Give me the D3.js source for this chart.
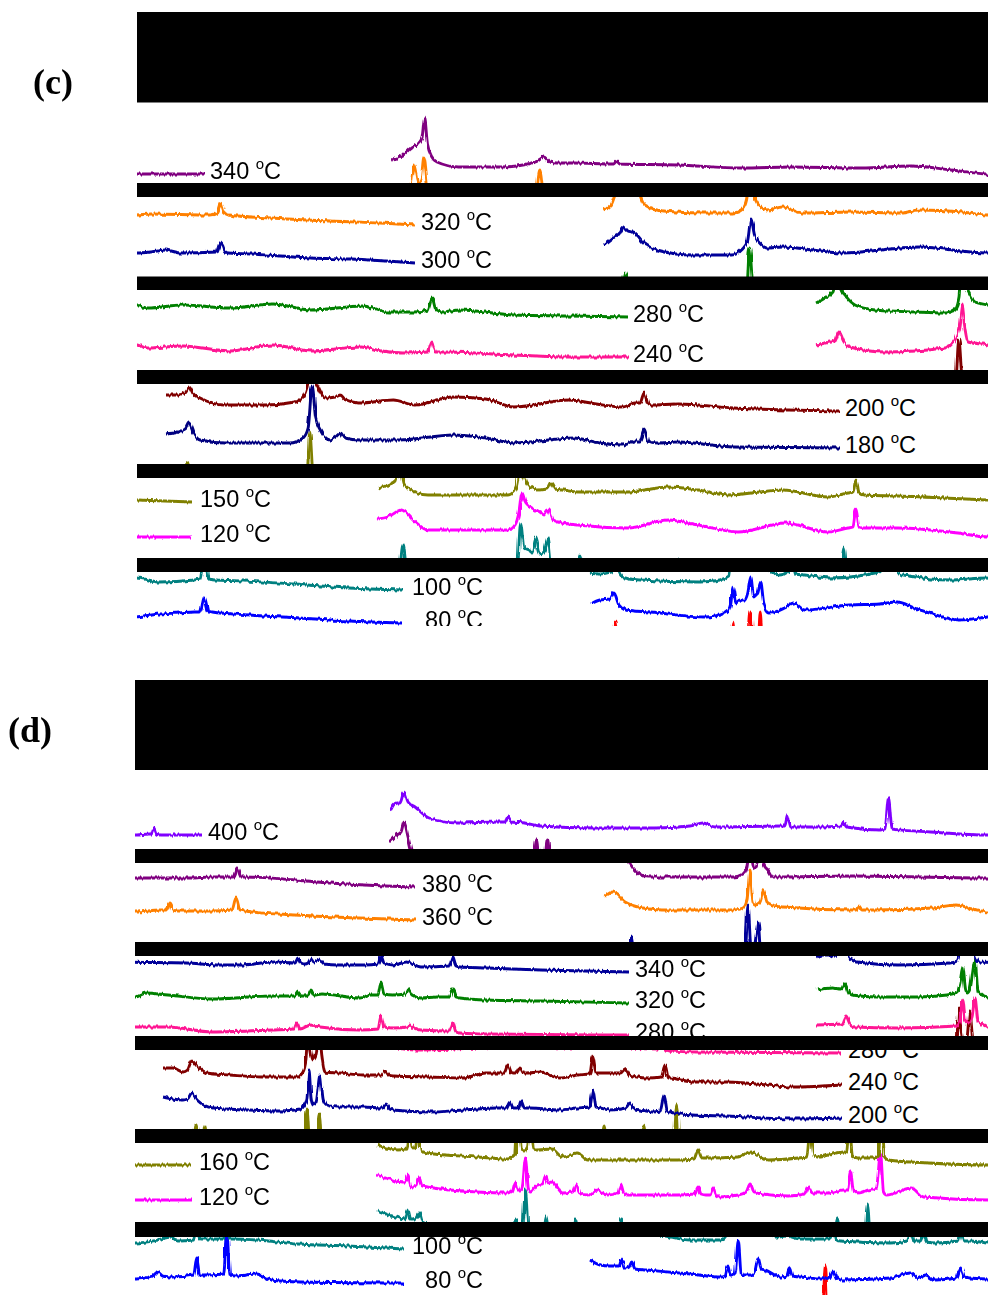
<!DOCTYPE html>
<html><head><meta charset="utf-8">
<script src="https://cdn.jsdelivr.net/npm/d3@7"></script>
<style>body{margin:0;background:#fff}svg{display:block}</style>
</head><body>
<script>
// ---------- data: [2-theta (deg), relative intensity] ----------
const twoThetaRange = [10, 76.5];

// panel (c)
const c340 = [[10,14],[11,18],[12,27],[12.6,30],[13.0,36],[13.26,56],[13.55,30],[14,17],[14.5,12],[16.7,7],[21,7],[24,11],[24.6,13],[25.2,17],[25.8,12],[26.5,11],[28.2,11],[32.2,10],[32.5,13],[32.8,10],[38.6,9],[45,6],[50,7],[57,6],[62,8],[66,4],[69.8,0],[76.5,0]];
const c320 = [[10,15],[10.8,20],[11.4,35],[11.9,40],[12.2,60],[12.6,42],[12.9,45],[13.2,68],[13.6,35],[14.2,20],[16,14],[20,12],[23,12],[24,16],[24.4,25],[24.8,55],[25.2,28],[25.8,18],[26.5,15],[28,18],[30,12],[35,13],[40,12],[41.7,15],[46,13],[48.5,10],[50,11],[56,10],[56.6,12],[57,22],[57.4,12],[57.8,10],[62,7],[68,4],[73,2],[76.5,0]];
const c300 = [[10.1,18],[11,25],[11.7,30],[12.1,36],[12.5,32],[12.9,31],[13.2,30],[14,21],[15.4,13],[19,8],[22.9,8],[24,14],[24.5,22],[24.85,44],[25.2,28],[25.8,19],[26.5,15],[28,16],[34,10],[41.7,16],[48.5,10],[50,11],[51.5,13],[53,10],[56.6,11],[57,20],[57.4,11],[57.8,10],[60,9],[63,7],[66,5],[70,4],[76.5,0]];
const c280 = [[10.1,14],[11,19],[11.8,25],[12.2,44],[12.6,28],[13,22],[14,12],[16,7],[20,5],[23,4],[24,8],[24.4,20],[24.7,69],[25,35],[25.5,22],[26,15],[27.3,12],[28.4,9],[31.9,12],[36.6,9],[40.9,13],[44.7,7],[49.9,11],[52.4,5],[55.1,5],[56.4,7],[56.8,19],[57.2,7],[57.9,5],[59.5,7],[65,2],[70.5,1],[76.5,0]];
const c240 = [[10.1,12],[11.5,15],[12,16],[12.4,25],[12.9,15],[13.5,10],[17,5],[23,9],[24,17],[24.4,30],[24.7,52],[25,28],[25.3,15],[27.3,12],[28.4,9],[31.9,11],[36.6,6],[40.9,12],[44.7,6],[49.6,10],[51.8,6],[54,4],[56.4,5],[56.8,15],[57.2,5],[57.9,5],[65,2],[70.5,0],[76.5,0]];
const c200 = [[10.07,16],[11.28,16],[12,19],[12.36,24],[12.8,17],[13.45,13],[15.9,6],[19.85,6],[22.8,9],[23.3,11],[23.8,18],[24.1,30],[24.38,71],[24.7,34],[25.07,24],[25.76,13],[26.8,14],[27.3,16],[27.7,12],[29.2,8],[32.5,11],[34.6,6],[38.4,14],[41.6,12],[44.4,4],[49.8,11],[52.5,7],[55.1,4],[56.3,8],[56.8,8],[57.2,18],[57.6,7],[57.9,6],[60.6,7],[66,3],[71.4,1],[76.5,0]];
const c180 = [[10,14],[11.28,16],[12,19],[12.36,25],[12.8,15],[13.45,8],[15.9,5],[22.3,5],[23.6,10],[24.1,20],[24.5,62],[24.85,30],[25.3,18],[26.25,8],[26.8,11],[27.3,15],[27.7,10],[29.2,8],[33.1,8],[38.4,13],[41.6,10],[44.4,5],[50.3,10],[52.8,5],[55.1,3],[56.3,7],[56.8,7],[57.2,19],[57.6,7],[58.4,5],[60.6,6],[66,1],[76.5,0]];
const c150 = [[10,14],[11,17],[11.8,22],[12.2,40],[12.6,18],[13,14],[13.7,10],[15,7],[23,7],[23.7,12],[24.0,25],[24.26,70],[24.6,25],[25,17],[26,12],[26.9,13],[27.3,19],[27.7,13],[28.5,12],[30,10],[35,10],[39,15],[42,12],[45,7],[50.5,12],[55,5],[57,9],[57.5,10],[57.8,22],[58.1,9],[58.6,7],[62,6],[71,2],[76.5,0]];
const c120 = [[10,18],[11,20],[12.35,27],[13.5,17],[15,7],[23,7],[23.7,12],[24.1,25],[24.4,44],[24.7,36],[25,32],[25.6,28],[26.2,25],[26.6,22],[27,27],[27.4,18],[28,15],[30,12],[35,9],[39,17],[42,12],[46,5],[50.75,14],[55,5],[57,9],[57.5,10],[57.8,28],[58.1,10],[58.6,9],[62,9],[68,4],[71,0],[76.5,0]];
const c100 = [[10,17],[11,16],[12.1,18],[12.5,45],[12.9,18],[13.4,12],[15,10],[21,8],[23,10],[23.9,14],[24.26,67],[24.6,42],[25,40],[25.4,38],[25.8,53],[26.2,36],[26.6,38],[27,52],[27.4,22],[27.8,20],[29,15],[29.8,18],[30.2,35],[30.6,16],[31.5,15],[34,12],[39,18],[40,30],[41,16],[42,14],[46,10],[49.8,12],[52.1,8],[55.6,10],[56.2,11],[56.6,43],[57,11],[57.8,10],[60.6,9],[65.6,6],[71.1,2],[76.4,0]];
const c80 = [[10.1,19],[11,23],[12.0,24],[12.4,30],[12.9,18],[13.6,13],[16,11],[21.6,6],[23,8],[23.8,12],[24.1,20],[24.3,36],[24.6,20],[25,23],[25.4,22],[25.8,30],[26.1,46],[26.4,26],[26.6,28],[26.8,30],[27.1,41],[27.4,20],[28,10],[29.5,15],[30.4,20],[31.5,13],[36,18],[39,19],[40.8,21],[42.5,15],[44,10],[47,3],[49.8,6],[52.1,9],[54.1,10],[55.6,11],[56.2,11],[56.6,26],[57,12],[57.4,11],[61.1,8],[66.1,5],[71.1,2],[76.4,0]];
const cRed = [[10,0],[12.2,0],[12.5,33],[12.8,0],[24,0],[24.3,33],[24.6,0],[25.8,0],[26.1,43],[26.4,0],[26.8,0],[27.05,43],[27.3,0],[76.5,0]];

// panel (d)
const d400 = [[10.16,25],[10.7,32],[11.1,32],[11.5,43],[11.9,33],[12.6,28],[14,17],[16.8,12],[21,13],[21.5,13],[21.8,18],[22.1,13],[23.5,12],[25,9],[30.5,7],[36.5,7],[40,9],[41.3,12],[42.5,8],[49,9],[49.45,9],[49.76,20],[50.05,8],[53,8],[55,9],[55.3,13],[55.6,8],[59,5],[59.45,6],[59.8,37],[60.15,6],[64,3],[69.9,0],[71.1,1],[71.35,1],[71.6,7],[71.85,1],[72.2,0],[76.5,0]];
const d380 = [[10,45],[10.8,52],[11.2,55],[11.5,65],[11.9,50],[12.2,37],[13,19],[14.5,10],[23,10],[24,13],[24.4,20],[24.7,47],[25,22],[25.2,19],[25.5,25],[25.8,47],[26.1,22],[26.5,17],[27,10],[35,11],[48.5,9],[54,9],[56.2,10],[58.3,10],[58.7,19],[59.1,10],[59.5,10],[64.5,7],[66.7,5],[71.5,2],[76.5,0]];
const d360 = [[10.15,23],[11,28],[11.5,25],[12.2,18],[14,12],[16,10],[23,10],[24,12],[24.4,20],[24.7,50],[25,18],[25.2,15],[25.7,18],[26.06,30],[26.4,18],[27,15],[28,13],[35,10],[35.3,10],[35.6,14],[35.9,10],[37,10],[43,12],[45.3,15],[47,11],[48.5,8],[51,10],[51.7,10],[52,17],[52.4,10],[52.8,9],[56.2,9],[58.2,10],[58.6,22],[59,10],[59.5,9],[64.5,5],[71,2],[76.5,0]];
const d340 = [[10,15],[10.5,17],[11.2,17],[11.7,16],[12.06,20],[12.5,18],[12.9,35],[13.25,14],[13.5,12],[14,10],[18.1,7],[23.3,9],[24,11],[24.25,20],[24.5,67],[24.8,25],[25,25],[25.2,28],[25.5,50],[25.8,15],[26.2,10],[32.2,9],[35.6,7],[37.6,7],[41.1,10],[43.1,9],[43.4,14],[43.7,9],[44.1,8],[44.4,9],[44.7,14],[45.0,10],[45.6,12],[46,8],[47.4,7],[50.1,7],[51.4,8],[51.7,16],[52.0,9],[52.9,7],[54.3,10],[55.7,5],[58.5,6],[58.85,15],[59.2,6],[59.6,5],[62.3,4],[67.7,2],[76.5,0]];
const d320 = [[10,13],[11.5,15],[12.4,14],[12.8,20],[13.2,10],[13.5,8],[16,6],[20,6],[23,8],[24,11],[24.3,20],[24.57,36],[24.85,14],[25,10],[25.3,14],[25.8,43],[26.1,12],[26.5,8],[27.15,6],[28.2,10],[30.4,8],[34.8,4],[40.8,7],[43.1,7],[43.4,11],[43.7,7],[44.1,7],[44.4,8],[44.7,13],[45,8],[45.8,9],[49.6,5],[50.7,8],[51.4,8],[51.7,20],[52.0,9],[52.9,8],[54.1,9],[54.4,14],[54.8,8],[55.7,5],[57.3,6],[58.5,6],[58.85,14],[59.2,6],[59.6,5],[62.2,3],[67.7,2],[76.5,0]];
const d280 = [[10,10],[12.5,11],[12.9,18],[13.3,10],[13.8,8],[18,7],[24,9],[24.3,15],[24.57,35],[24.85,14],[25.2,13],[25.5,18],[25.8,37],[26.1,14],[26.5,11],[27.15,8],[30.4,8],[34.8,3],[40.8,5],[43.0,6],[43.3,12],[43.6,6],[44.7,10],[45.6,8],[49.6,5],[51.4,6],[51.7,19],[52.0,8],[52.9,7],[54.3,8],[54.6,10],[55.0,7],[55.7,5],[58.5,4],[58.85,13],[59.2,3],[59.6,2],[62.2,1],[76.5,0]];
const d240 = [[10,17],[10.98,17],[11.96,13],[12.4,15],[12.81,24],[13.33,19],[14.31,12],[16.56,10],[19.79,8],[23.12,8],[23.71,13],[24.0,25],[24.2,60],[24.45,35],[24.69,25],[25.0,30],[25.28,57],[25.55,30],[25.87,13],[27.34,12],[29.59,10],[31.4,10],[31.74,14],[32.1,10],[32.53,9],[36.15,8],[39.38,7],[41.63,12],[43.4,12],[43.79,20],[44.1,13],[44.28,12],[44.6,12],[44.96,17],[45.3,12],[45.65,12],[46.92,13],[48.88,7],[50.55,10],[51.8,11],[52.11,29],[52.4,12],[52.8,12],[54.07,12],[54.8,12],[55.25,16],[55.7,10],[56.43,8],[57.41,7],[58.8,8],[59.17,20],[59.5,7],[59.66,7],[61.92,3],[65.24,3],[69.16,0],[71.7,-2],[76.5,0]];
const d200 = [[10,21],[10.98,19],[11.96,18],[12.4,19],[12.81,25],[13.33,18],[14.9,10],[18.23,8],[21.46,7],[23.42,9],[23.91,14],[24.1,20],[24.3,48],[24.5,20],[24.69,13],[25.0,16],[25.38,43],[25.7,18],[26.06,13],[27.04,11],[29.59,11],[31.5,10],[31.84,14],[32.2,9],[32.53,8],[36.15,6],[39.38,8],[42.71,10],[43.6,10],[43.98,16],[44.3,10],[44.47,10],[44.8,10],[45.06,17],[45.4,10],[45.94,10],[48.88,8],[50.55,10],[51.8,11],[52.11,28],[52.4,11],[52.8,10],[53.78,8],[55.3,10],[55.74,15],[56.2,9],[56.72,8],[57.99,6],[58.7,7],[59.07,23],[59.4,7],[59.66,6],[61.92,3],[65.24,2],[71.7,-1],[76.5,0]];
const d160 = [[10,20],[11,17],[12,15],[12.9,16],[13.25,40],[13.5,18],[13.7,17],[13.85,18],[14.1,39],[14.4,14],[15,12],[20,8],[23,6],[23.8,10],[24.1,55],[24.4,16],[24.7,15],[25.0,18],[25.3,51],[25.6,16],[26,15],[27.4,16],[28.5,8],[30,12],[31,5],[35,5],[40,5],[41.6,6],[42,15],[42.4,7],[43,7],[46,8],[47.2,13],[49,5],[52,7],[52.85,8],[53.2,39],[53.55,10],[54,8],[56.5,13],[56.8,12],[57.1,39],[57.4,9],[58,7],[59.5,7],[60.0,10],[60.3,60],[60.6,8],[61,5],[65,2],[71.1,0],[76.5,0]];
const d120 = [[10,25],[11.5,20],[12.8,18],[13.1,25],[13.35,14],[13.6,13],[14.0,15],[14.2,22],[14.5,14],[15,13],[20,8],[23,7],[23.5,9],[23.8,18],[24.1,10],[24.3,10],[24.5,14],[24.8,42],[25.1,10],[25.3,8],[26,15],[26.5,16],[26.8,24],[27.1,17],[27.5,18],[28.5,7],[29.5,8],[29.85,15],[30.2,7],[31,5],[32,10],[33,5],[34.0,7],[34.3,16],[34.6,7],[35,5],[40,5],[41.7,6],[42,13],[42.3,6],[42.8,5],[43.2,5],[43.5,12],[43.8,5],[44.2,3],[46,5],[46.8,8],[47.2,16],[47.6,8],[48.5,6],[51,4],[52.6,6],[53,13],[53.4,7],[55,7],[56.5,10],[56.9,10],[57.2,29],[57.5,9],[58,7],[59,10],[59.8,12],[60.2,47],[60.5,8],[60.8,5],[63.25,12],[64.5,3],[71.1,0],[76.5,0]];
const d100 = [[10,39],[11.5,33],[12.8,30],[13.1,39],[13.35,30],[13.6,30],[13.9,32],[14.2,37],[14.5,28],[15,25],[16,17],[18,12],[20,9],[23,9],[23.5,12],[23.8,30],[24.1,18],[24.3,20],[24.5,18],[24.8,59],[25.1,16],[25.3,15],[26,18],[26.5,18],[26.8,33],[27.1,20],[27.5,22],[28.5,12],[29.5,13],[29.8,30],[30.1,12],[31,10],[34.0,10],[34.3,30],[34.6,9],[35,8],[40,6],[41.7,8],[42,18],[42.3,8],[43.0,8],[43.3,16],[43.6,7],[44.5,6],[46.7,8],[47,20],[47.3,8],[48,8],[49.8,6],[52,9],[53.3,12],[54,8],[55.6,9],[55.9,30],[56.2,10],[56.5,10],[58.6,10],[58.9,45],[59.2,10],[59.5,10],[61.9,9],[66,5],[71,3],[76.6,0]];
const d80 = [[10,23],[11,18],[12,17],[12.9,17],[13.17,24],[13.4,15],[13.6,15],[13.9,16],[14.17,21],[14.5,14],[15.6,13],[20,9],[23,6],[23.5,7],[23.77,17],[24.0,8],[24.2,8],[24.5,10],[24.8,42],[25.1,9],[25.3,8],[26,8],[26.4,10],[26.8,25],[27.1,14],[27.5,13],[29,6],[29.6,7],[29.9,15],[30.2,7],[31,6],[33,4],[33.9,5],[34.27,12],[34.6,5],[35,3],[40,5],[42,10],[42.7,5],[43.5,8],[44.5,3],[46.6,5],[47,15],[47.4,6],[48,5],[49.8,4],[51.5,7],[52,11],[52.5,7],[53.5,6],[55.6,8],[55.9,25],[56.2,8],[56.6,8],[58.6,9],[58.9,53],[59.2,8],[59.8,7],[61.9,9],[63.3,3],[66.3,1],[76.6,0]];
const dRed = [[10,0],[33.2,0],[33.5,55],[33.8,0],[76.5,0]];

// labels (temperature, °C)
const labelsC = {c340:'340', c320:'320', c300:'300', c280:'280', c240:'240', c200:'200', c180:'180', c150:'150', c120:'120', c100:'100', c80:'80'};
const labelsD = {d400:'400', d380:'380', d360:'360', d340:'340', d320:'320', d280:'280', d240:'240', d200:'200', d160:'160', d120:'120', d100:'100', d80:'80'};

// ---------- styling / registry ----------
const series = {
  c340:{data:c340,color:'#800080'}, c320:{data:c320,color:'#ff8000'}, c300:{data:c300,color:'#000099'},
  c280:{data:c280,color:'#008000'}, c240:{data:c240,color:'#ff1493'}, c200:{data:c200,color:'#800000'},
  c180:{data:c180,color:'#000080'}, c150:{data:c150,color:'#808000'}, c120:{data:c120,color:'#ff00ff'},
  c100:{data:c100,color:'#008080'}, c80:{data:c80,color:'#0000ff'}, cRed:{data:cRed,color:'#ff0000'},
  d400:{data:d400,color:'#8000ff'}, d380:{data:d380,color:'#800080'}, d360:{data:d360,color:'#ff8000'},
  d340:{data:d340,color:'#000099'}, d320:{data:d320,color:'#008000'}, d280:{data:d280,color:'#ff1493'},
  d240:{data:d240,color:'#800000'}, d200:{data:d200,color:'#000099'}, d160:{data:d160,color:'#808000'},
  d120:{data:d120,color:'#ff00ff'}, d100:{data:d100,color:'#008080'}, d80:{data:d80,color:'#0000ff'},
  dRed:{data:dRed,color:'#ff0000'}
};
Object.entries(labelsC).forEach(([k,v])=>series[k].label=v);
Object.entries(labelsD).forEach(([k,v])=>series[k].label=v);

// ---------- layout ----------
const panels = [
  {title:'(c)', tx:33, ty:94, left:137, right:988, header:[12,102.5], strips:[
    {y0:102.5,y1:183,x0:392,len:664,gap:5,show:[['c320',225],['c340',174]]},
    {y0:197,y1:276.5,x0:603,len:663,gap:6,show:[['c280',317],['c300',263],['c320',225]]},
    {y0:290,y1:370,x0:815,len:665,gap:4,show:[['c200',411],['c240',357],['c280',317]]},
    {y0:384,y1:464,x0:165,len:675,gap:5,show:[['c150',502],['c180',448],['c200',411]]},
    {y0:478,y1:558,x0:378,len:665,gap:8,show:[['c100',590],['c120',537],['c150',502]]},
    {y0:572,y1:626,x0:590,len:664,gap:9,show:[['cRed',655],['c80',623],['c100',590]]}
  ]},
  {title:'(d)', tx:8, ty:742, left:135, right:988, header:[680,770], strips:[
    {y0:770,y1:849,x0:389,len:667,gap:5,show:[['d380',887],['d400',835]]},
    {y0:863,y1:942,x0:603,len:665,gap:7,show:[['d340',972],['d360',920],['d380',887]]},
    {y0:956,y1:1036,x0:817,len:665,gap:6,show:[['d240',1068],['d280',1035],['d320',1003],['d340',972]]},
    {y0:1050,y1:1129,x0:163,len:679,gap:6,show:[['d160',1165],['d200',1118],['d240',1085],['d280',1053]]},
    {y0:1143,y1:1222,x0:377,len:667,gap:8,show:[['d100',1249],['d120',1200],['d160',1165]]},
    {y0:1237,y1:1295,x0:590,len:666,gap:9,show:[['dRed',1320],['d80',1283],['d100',1249]]}
  ]}
];

const W = 988, H = 1295;
const svg = d3.select('body').append('svg').attr('width',W).attr('height',H);
svg.append('rect').attr('width',W).attr('height',H).attr('fill','#fff');
const defs = svg.append('defs');
const filt = defs.append('filter').attr('id','jit').attr('x','-5%').attr('y','-30%').attr('width','110%').attr('height','160%');
filt.append('feTurbulence').attr('type','fractalNoise').attr('baseFrequency','0.45 0.03').attr('numOctaves',2).attr('seed',5).attr('result','n');
filt.append('feDisplacementMap').attr('in','SourceGraphic').attr('in2','n').attr('scale',4).attr('xChannelSelector','R').attr('yChannelSelector','G');

const yRel = d3.scaleLinear().domain([0,100]).range([0,-100]);
const digitW = 13.1;
let cid = 0;
panels.forEach(p => {
  const period = p.right - p.left;
  p.strips.forEach(st => {
    const x = d3.scaleLinear().domain(twoThetaRange).range([0, st.len]);
    const id = 'clip' + (cid++);
    defs.append('clipPath').attr('id',id).append('rect')
      .attr('x',p.left).attr('y',st.y0).attr('width',period).attr('height',st.y1-st.y0);
    const g = svg.append('g').attr('clip-path',`url(#${id})`);
    const lg = g.append('g').attr('filter','url(#jit)');
    const tg = g.append('g');
    st.show.forEach(([key, base]) => {
      const s = series[key];
      const line = d3.line().x(d=>x(d[0])).y(d=>base + yRel(d[1])).curve(d3.curveMonotoneX);
      [st.x0, st.x0 - period].forEach(dx => {
        lg.append('path').attr('transform',`translate(${dx},0)`).attr('d',line(s.data))
          .attr('fill','none').attr('stroke',s.color).attr('stroke-width',2.9).attr('stroke-linejoin','round');
        if (!s.label) return;
        const lx = dx + x(twoThetaRange[1]) + st.gap + (3 - s.label.length) * digitW, ly = base + 4.5;
        if (lx > p.left && lx < p.right - 40 && ly > st.y0 && ly - 18 < st.y1) {
          const t = tg.append('text').attr('x', lx).attr('y', ly)
            .attr('font-family','"Liberation Sans", Arial, sans-serif').attr('font-size',23.5).attr('fill','#000');
          t.append('tspan').text(s.label + ' ');
          t.append('tspan').attr('font-size',15).attr('dy',-9.5).text('o');
          t.append('tspan').attr('font-size',23.5).attr('dy',9.5).text('C');
        }
      });
    });
  });
  // black header and separator bars
  svg.append('rect').attr('x',p.left).attr('y',p.header[0]).attr('width',period).attr('height',p.header[1]-p.header[0]).attr('fill','#000');
  for (let i=0;i<p.strips.length-1;i++){
    svg.append('rect').attr('x',p.left).attr('y',p.strips[i].y1).attr('width',period)
      .attr('height',p.strips[i+1].y0-p.strips[i].y1).attr('fill','#000');
  }
  svg.append('text').attr('x',p.tx).attr('y',p.ty).attr('font-family','"Liberation Serif","Times New Roman",serif')
    .attr('font-weight','bold').attr('font-size',36).text(p.title);
});
</script>
</body></html>
